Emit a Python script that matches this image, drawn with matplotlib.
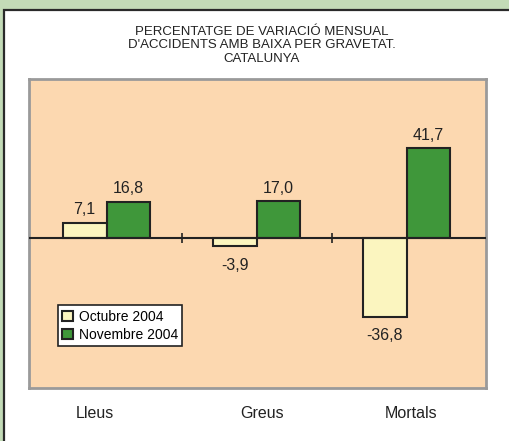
import matplotlib
matplotlib.use("Agg")
import numpy as np
import matplotlib.pyplot as plt
from matplotlib.patches import Rectangle

# data
categories = ["Lleus", "Greus", "Mortals"]
octubre_2004 = [7.1, -3.9, -36.8]
novembre_2004 = [16.8, 17.0, 41.7]
series_names = ["Octubre 2004", "Novembre 2004"]
title_lines = ["PERCENTATGE DE VARIACIÓ MENSUAL",
               "D'ACCIDENTS AMB BAIXA PER GRAVETAT.",
               "CATALUNYA"]

plt.rcParams["font.family"] = ["Liberation Sans", "DejaVu Sans"]

fig = plt.figure(figsize=(5.10, 4.41), dpi=100, facecolor="#c3dbb7")

# white inner panel with dark frame
panel = Rectangle((4 / 510, -0.01), 1.0, 1 - 10 / 441 + 0.01, transform=fig.transFigure,
                  facecolor="white", edgecolor="#2a2a2a", linewidth=1.6, zorder=-1)
fig.patches.append(panel)

fig.text(262 / 510, 1 - 26 / 441, "\n".join(title_lines), ha="center", va="top",
         fontsize=9.5, color="#222222", linespacing=1.15)

ax = fig.add_axes([29 / 510, 1 - 388 / 441, 457 / 510, 309 / 441])
ax.set_facecolor("#fcd8b0")
for s in ax.spines.values():
    s.set_color("#9a9a9a")
    s.set_linewidth(2)

x = np.arange(len(categories))
w = 0.293
b1 = ax.bar(x - w / 2, octubre_2004, w, color="#fbf5bf", edgecolor="#222222",
            linewidth=1.5, label=series_names[0], zorder=2)
b2 = ax.bar(x + w / 2, novembre_2004, w, color="#3f973a", edgecolor="#222222",
            linewidth=1.5, label=series_names[1], zorder=2)

# value labels, comma decimals
for bars in (b1, b2):
    for rect in bars:
        v = rect.get_height()
        xc = rect.get_x() + rect.get_width() / 2
        txt = ("%.1f" % v).replace(".", ",")
        if v >= 0:
            ax.annotate(txt, (xc, v), xytext=(0, 4), textcoords="offset points",
                        ha="center", va="bottom", fontsize=11.5, color="#222222")
        else:
            ax.annotate(txt, (xc, v), xytext=(0, -8), textcoords="offset points",
                        ha="center", va="top", fontsize=11.5, color="#222222")

# zero line with category separators
ax.axhline(0, color="#222222", linewidth=1.5, zorder=3)
ax.vlines([0.5, 1.5], -2.4, 2.4, color="#222222", linewidth=1.2, zorder=3)

ax.set_xlim(-0.517, 2.53)
ax.set_ylim(-69.8, 74)
ax.set_yticks([])
# category labels sit slightly off the group centres in the original
ax.set_xticks(x + np.array([-0.08, 0.04, 0.03]))
ax.set_xticklabels(categories, fontsize=11.5, color="#222222")
ax.tick_params(axis="x", length=0, pad=13)

leg = ax.legend(loc="lower left", bbox_to_anchor=(0.063, 0.136), fontsize=10,
                frameon=True, fancybox=False, framealpha=1, handlelength=0.8,
                handleheight=0.8, handletextpad=0.4, borderpad=0.3, labelspacing=0.3,
                borderaxespad=0)
leg.get_frame().set_edgecolor("#222222")
leg.get_frame().set_linewidth(1.2)

fig.savefig("out.png", dpi=100, facecolor=fig.get_facecolor())
